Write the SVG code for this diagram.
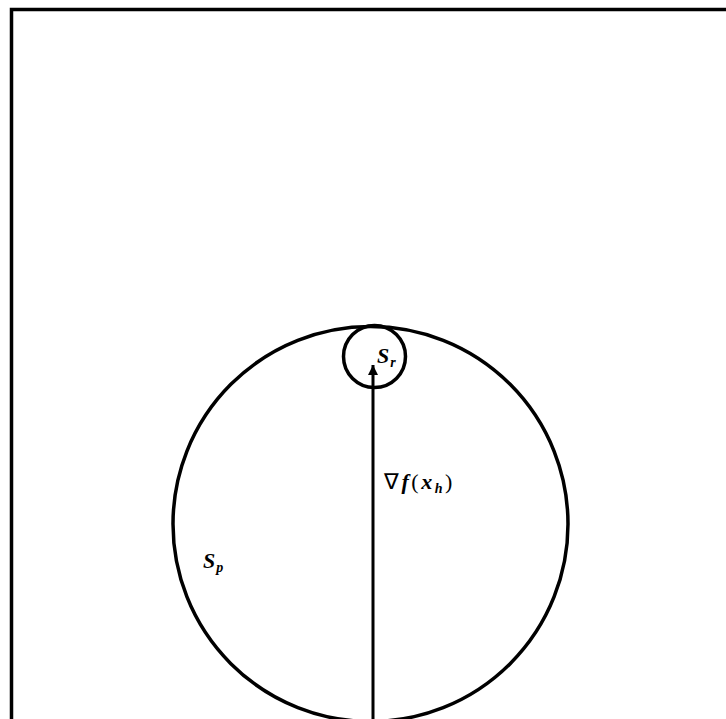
<svg xmlns="http://www.w3.org/2000/svg" width="726" height="719" viewBox="0 0 726 719">
<style>
.ln{fill:none;stroke:#000;stroke-width:3.5}
.t{font-family:"Liberation Serif",serif;font-style:italic;font-weight:bold;font-size:22px;fill:#000}
.s{font-size:14px}
.u{font-style:normal;font-weight:normal}
</style>
<defs>
<marker id="ah" viewBox="0 0 10 10" refX="10" refY="5" markerWidth="10" markerHeight="18" markerUnits="userSpaceOnUse" orient="auto">
<path d="M0,0 L10,5 L0,10 Z" fill="#000"/>
</marker>
</defs>
<rect width="726" height="719" fill="#fff"/>
<g id="frame"><path class="ln" d="M11.5,725 V9.5 H730"/></g>
<g id="Sp"><circle class="ln" cx="370.5" cy="524" r="197.5"/>
<text class="t" x="203" y="568" letter-spacing="1">S<tspan class="s" dy="4">p</tspan></text></g>
<g id="Sr"><circle class="ln" cx="374.5" cy="356.5" r="31" stroke-width="3"/>
<text class="t" x="377" y="363" letter-spacing="1">S<tspan class="s" dy="4">r</tspan></text></g>
<g id="connectors"><line x1="373" y1="719" x2="373" y2="365" stroke="#000" stroke-width="3" marker-end="url(#ah)"/>
<text class="t" x="384" y="489" letter-spacing="2.5"><tspan class="u">∇</tspan>f<tspan class="u">(</tspan>x<tspan class="s" dy="4">h</tspan><tspan class="u" dy="-4">)</tspan></text></g>
</svg>
